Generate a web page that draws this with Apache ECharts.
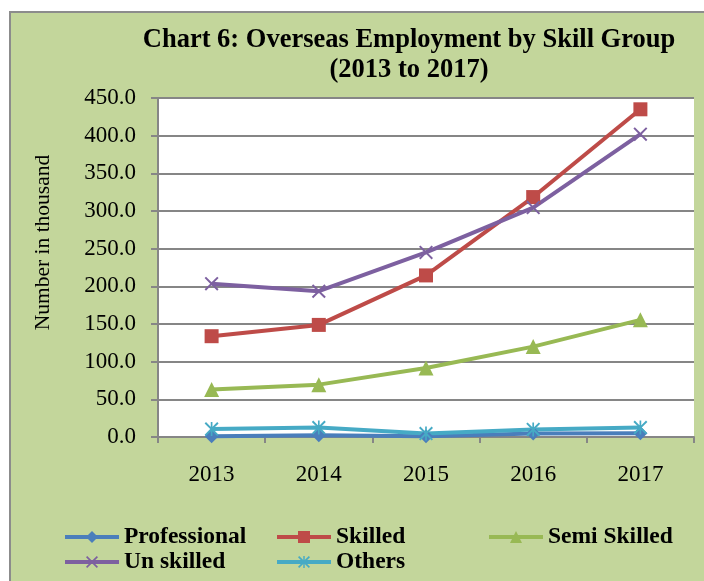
<!DOCTYPE html>
<html>
<head>
<meta charset="utf-8">
<script src="https://cdn.jsdelivr.net/npm/echarts@6/dist/echarts.min.js"></script>
<style>
  html, body { margin: 0; padding: 0; background: #fff; }
  #chart { width: 704px; height: 581px; }
</style>
</head>
<body>
<div id="chart"></div>
<script>
// data (thousand persons)
const years = ['2013', '2014', '2015', '2016', '2017'];
const professional = [1.0, 2.2, 0.9, 4.6, 5.0];
const skilled = [133.8, 148.8, 214.5, 318.5, 435.0];
const semiSkilled = [63.0, 69.5, 91.5, 120.0, 155.5];
const unSkilled = [203.5, 193.5, 245.0, 304.5, 402.0];
const others = [10.5, 12.5, 4.5, 10.0, 12.5];

const serif = '"Liberation Serif", "Times New Roman", serif';
const xMark = 'path://M0,1L1,0L5,4L9,0L10,1L6,5L10,9L9,10L5,6L1,10L0,9L4,5Z';
const starMark = 'path://M0,1L1,0L5,4L9,0L10,1L6,5L10,9L9,10L5,6L1,10L0,9L4,5Z M4.4,0L5.6,0L5.6,10L4.4,10Z';

function lineSeries(name, data, color, symbol, size) {
	return {
		name: name,
		type: 'line',
		data: data,
		symbol: symbol,
		symbolSize: size,
		showAllSymbol: true,
		lineStyle: { color: color, width: 4 },
		itemStyle: { color: color },
		emphasis: { disabled: true }
	};
}

function legendItem(name, left, top) {
	return {
		data: [name],
		left: left,
		top: top,
		padding: 0,
		itemWidth: 54,
		itemHeight: 15,
		itemGap: 0,
		lineStyle: { width: 4 },
		textStyle: { fontFamily: serif, fontSize: 23.5, fontWeight: 'bold', color: '#000', lineHeight: 24 }
	};
}

let chart = echarts.init(document.getElementById('chart'));
chart.setOption({
	animation: false,
	backgroundColor: '#fff',
	graphic: [{
		type: 'rect',
		z: -10,
		shape: { x: 10, y: 12, width: 720, height: 600 },
		style: { fill: '#c3d69b', stroke: '#8c8c8c', lineWidth: 2 }
	}],
	title: {
		text: 'Chart 6: Overseas Employment by Skill Group\n(2013 to 2017)',
		left: 404,
		top: 20,
		textAlign: 'center',
		textStyle: { fontFamily: serif, fontSize: 26.5, fontWeight: 'bold', color: '#000', lineHeight: 30 }
	},
	legend: [
		legendItem('Professional', 63, 525),
		legendItem('Skilled', 275, 525),
		legendItem('Semi Skilled', 487, 525),
		legendItem('Un skilled', 63, 550),
		legendItem('Others', 275, 550)
	],
	grid: {
		left: 158,
		right: 10,
		top: 98,
		bottom: 144,
		show: true,
		backgroundColor: '#fff',
		borderWidth: 0
	},
	xAxis: {
		type: 'category',
		data: years,
		boundaryGap: true,
		axisLine: { lineStyle: { color: '#868686', width: 2 } },
		axisTick: { show: true, length: 6, lineStyle: { color: '#868686', width: 2 } },
		axisLabel: { fontFamily: serif, fontSize: 23, color: '#000', margin: 26 }
	},
	yAxis: {
		type: 'value',
		min: 0,
		max: 450,
		interval: 50,
		name: 'Number in thousand',
		nameLocation: 'middle',
		nameRotate: 90,
		nameGap: 104,
		nameTextStyle: { fontFamily: serif, fontSize: 21.5, color: '#000', padding: [0, 0, 0, 50] },
		axisLine: { show: true, lineStyle: { color: '#868686', width: 2 } },
		axisTick: { show: true, length: 7, lineStyle: { color: '#868686', width: 2 } },
		splitLine: { show: true, lineStyle: { color: '#868686', width: 2 } },
		axisLabel: {
			fontFamily: serif, fontSize: 23, color: '#000', margin: 22,
			formatter: v => v.toFixed(1)
		}
	},
	series: [
		lineSeries('Professional', professional, '#4a7ebb', 'diamond', 14),
		lineSeries('Skilled', skilled, '#be4b48', 'rect', 14),
		lineSeries('Semi Skilled', semiSkilled, '#98b954', 'triangle', 15),
		lineSeries('Un skilled', unSkilled, '#7d60a0', xMark, 14),
		lineSeries('Others', others, '#46aac5', starMark, 14)
	]
});
</script>
</body>
</html>
